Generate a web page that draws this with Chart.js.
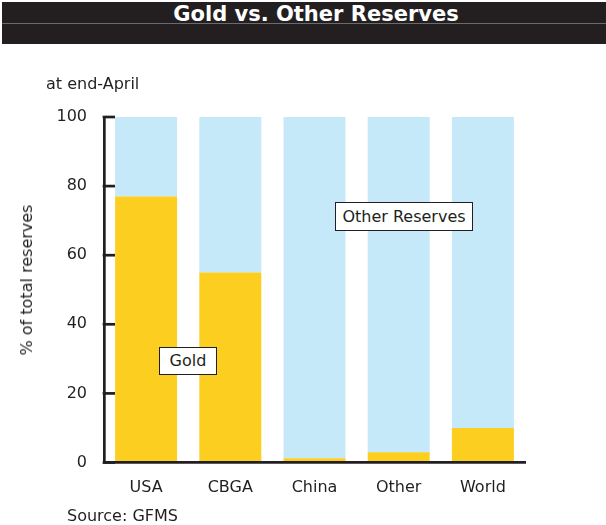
<!DOCTYPE html>
<html>
<head>
<meta charset="utf-8">
<script src="https://cdn.jsdelivr.net/npm/chart.js@4"></script>
<style>
  html, body { margin: 0; padding: 0; background: #fff; }
  #wrap { position: relative; width: 606px; height: 525px; overflow: hidden; font-family: "DejaVu Sans", Verdana, sans-serif; color: #231f20; }
  #c { position: absolute; left: 0; top: 0; }
  .titlebar { position: absolute; left: 2px; top: 2px; width: 604px; height: 42px; background: #231f20; }
  .titlebar .rule { position: absolute; left: 0; right: 0; top: 21px; height: 1px; background: #6d6a6b; }
  .titlebar .txt { position: absolute; left: 0; width: 628px; top: 2px; text-align: center; font-weight: bold; font-size: 21px; line-height: 21px; color: #fff; }
  .note { position: absolute; font-size: 16px; line-height: 16px; white-space: nowrap; }
  .ylab { position: absolute; font-size: 16px; line-height: 16px; white-space: nowrap; transform: translate(-50%, -50%) rotate(-90deg); left: 27px; top: 280px; }
  .box { position: absolute; box-sizing: border-box; border: 1.5px solid #231f20; background: #fff; font-size: 16px; line-height: 16px; display: flex; align-items: center; justify-content: center; white-space: nowrap; }
</style>
</head>
<body>
<div id="wrap">
  <canvas id="c" width="606" height="525"></canvas>
  <div class="titlebar"><div class="rule"></div><div class="txt">Gold vs. Other Reserves</div></div>
  <div class="note" style="left:46px; top:76px;">at end-April</div>
  <div class="ylab">% of total reserves</div>
  <div class="note" style="left:67px; top:508px;">Source: GFMS</div>
  <div class="box" style="left:335px; top:202px; width:138px; height:29px;">Other Reserves</div>
  <div class="box" style="left:159px; top:347px; width:58px; height:28px;">Gold</div>
</div>
<script>
const categories = ["USA", "CBGA", "China", "Other", "World"];
const goldShare = [77, 55, 1.2, 3, 10];
const otherShare = [23, 45, 98.8, 97, 90];
const yTicks = [0, 20, 40, 60, 80, 100];

const INK = "#231f20";
const AXIS_W = 2.7;

const inwardTicks = {
  id: "inwardTicks",
  afterDatasetsDraw(chart) {
    const y = chart.scales.y;
    const ctx = chart.ctx;
    const x0 = chart.chartArea.left;
    ctx.save();
    ctx.strokeStyle = INK;
    ctx.lineWidth = AXIS_W;
    yTicks.forEach(v => {
      const py = y.getPixelForValue(v);
      ctx.beginPath();
      ctx.moveTo(x0 - AXIS_W / 2, py);
      ctx.lineTo(x0 + 11, py);
      ctx.stroke();
    });
    ctx.restore();
  }
};

new Chart(document.getElementById("c"), {
  type: "bar",
  data: {
    labels: categories,
    datasets: [
      { label: "Gold", data: goldShare, backgroundColor: "#fcce1f", borderWidth: 0 },
      { label: "Other Reserves", data: otherShare, backgroundColor: "#c6e9f9", borderWidth: 0 }
    ]
  },
  options: {
    responsive: false,
    animation: false,
    devicePixelRatio: 1,
    layout: { padding: { top: 117, right: 81, left: 0, bottom: 0 } },
    plugins: { legend: { display: false }, tooltip: { enabled: false }, title: { display: false } },
    datasets: { bar: { categoryPercentage: 1, barPercentage: 0.736 } },
    scales: {
      x: {
        stacked: true,
        grid: { display: true, drawOnChartArea: false, drawTicks: false },
        border: { display: true, color: INK, width: AXIS_W, z: 1 },
        ticks: { color: INK, font: { family: "DejaVu Sans", size: 16 }, padding: 16, maxRotation: 0 },
        afterFit(s) { s.height = 62.5; }
      },
      y: {
        stacked: true,
        min: 0, max: 100,
        afterBuildTicks(s) { s.ticks = yTicks.map(v => ({ value: v })); },
        grid: { display: true, drawOnChartArea: false, drawTicks: false },
        border: { display: true, color: INK, width: AXIS_W, z: 1 },
        ticks: { color: INK, font: { family: "DejaVu Sans", size: 16 }, padding: 17 },
        afterFit(s) { s.width = 104; }
      }
    }
  },
  plugins: [inwardTicks]
});
</script>
</body>
</html>
